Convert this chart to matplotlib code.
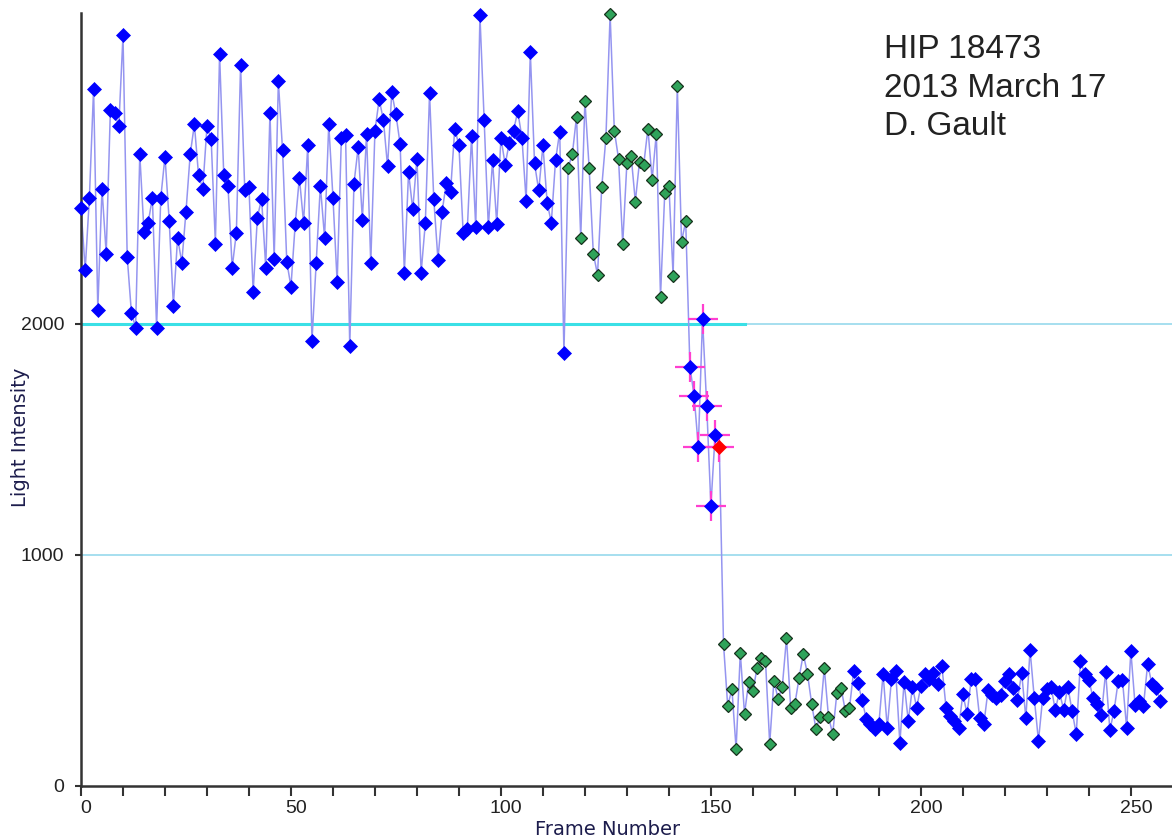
import numpy as np
import matplotlib
matplotlib.use("Agg")
import matplotlib.pyplot as plt
from matplotlib.transforms import ScaledTranslation

# ---- data ----
intensity = [
    2502, 2234, 2545, 3017, 2061, 2584, 2303, 2926, 2913, 2853,
    3247, 2290, 2048, 1983, 2732, 2398, 2437, 2545, 1983, 2545,
    2723, 2446, 2078, 2372, 2264, 2485, 2732, 2862, 2641, 2584,
    2853, 2797, 2346, 3165, 2641, 2597, 2242, 2394, 3117, 2576,
    2589, 2139, 2459, 2541, 2242, 2913, 2281, 3048, 2749, 2268,
    2160, 2429, 2632, 2437, 2771, 1926, 2264, 2597, 2372, 2862,
    2545, 2178, 2805, 2814, 1905, 2606, 2762, 2450, 2822, 2264,
    2835, 2970, 2883, 2680, 3000, 2905, 2775, 2221, 2654, 2494,
    2714, 2221, 2437, 2996, 2541, 2277, 2485, 2610, 2571, 2844,
    2771, 2394, 2411, 2810, 2416, 3333, 2883, 2416, 2706, 2433,
    2805, 2688, 2783, 2835, 2918, 2805, 2532, 3173, 2693, 2576,
    2771, 2524, 2437, 2706, 2831, 1874, 2675, 2732, 2896, 2372,
    2965, 2675, 2303, 2212, 2589, 2805, 3338, 2835, 2714, 2346,
    2697, 2727, 2528, 2701, 2688, 2844, 2623, 2822, 2117, 2563,
    2597, 2208, 3026, 2355, 2442, 1814, 1688, 1467, 2022, 1645,
    1212, 1520, 1467, 615, 346, 420, 160, 576, 312, 450,
    411, 511, 554, 541, 182, 455, 377, 429, 641, 338,
    355, 468, 571, 485, 355, 247, 299, 511, 299, 225,
    403, 424, 325, 338, 498, 446, 372, 290, 268, 247,
    268, 485, 251, 463, 498, 186, 450, 281, 429, 338,
    433, 485, 463, 489, 442, 519, 338, 303, 281, 251,
    398, 312, 463, 463, 294, 268, 416, 394, 381, 394,
    455, 485, 424, 372, 489, 294, 589, 381, 195, 381,
    420, 429, 329, 407, 329, 429, 325, 225, 541, 485,
    459, 381, 355, 307, 494, 242, 325, 455, 459, 251,
    584, 351, 368, 346, 528, 442, 424, 368,
]
green_frames = list(range(116, 145)) + list(range(153, 184))
cross_frames = list(range(145, 153))
red_frames = [152]
y_ticks = [0, 1000, 2000]
x_major = [0, 50, 100, 150, 200, 250]
annotation = "HIP 18473\n2013 March 17\nD. Gault"

frames = np.arange(len(intensity))
vals = np.array(intensity, dtype=float)
is_green = np.isin(frames, green_frames)
is_red = np.isin(frames, red_frames)
is_blue = ~is_green & ~is_red

plt.rcParams['font.family'] = ['Liberation Sans', 'DejaVu Sans']

fig = plt.figure(figsize=(11.72, 8.39), dpi=100)
ax = fig.add_axes([81 / 1172, 1 - 786 / 839, 1 - 81 / 1172, 786 / 839])
ax.set_xlim(0, 259.8)
ax.set_ylim(0, 3400)

# reference lines
for yv in [1000, 2000]:
    ax.axhline(yv, color='#9fdcee', lw=1.3, zorder=0)
ax.plot([0, 158], [2000, 2000], color='#3ae0e6', lw=2.2, zorder=0.5)

# trace
ax.plot(frames, vals, color='#9595f0', lw=1.1, zorder=1)

# crosses
ax.plot(frames[cross_frames], vals[cross_frames], linestyle='none', marker='+',
        ms=21, mew=1.6, color='#ff3fd0', zorder=2, clip_on=False)

# markers
ax.plot(frames[is_blue], vals[is_blue], linestyle='none', marker='D', ms=6.8,
        mfc='#0000ff', mec='#0000ff', mew=0.5, zorder=3, clip_on=False)
ax.plot(frames[is_green], vals[is_green], linestyle='none', marker='D', ms=6.4,
        mfc='#2fa35a', mec='#16321c', mew=0.9, zorder=3, clip_on=False)
ax.plot(frames[is_red], vals[is_red], linestyle='none', marker='D', ms=6.8,
        mfc='#ff0000', mec='#ff0000', mew=0.5, zorder=4, clip_on=False)

# axes styling
for s in ['top', 'right']:
    ax.spines[s].set_visible(False)
for s in ['left', 'bottom']:
    ax.spines[s].set_linewidth(1.8)
    ax.spines[s].set_color('#333333')
ax.spines['left'].set_bounds(0, 3345)

ax.set_yticks(y_ticks)
ax.set_yticklabels([str(v) for v in y_ticks], fontsize=14, color='#222222',
                   family=['Liberation Sans'])
ax.set_xticks(x_major)
ax.set_xticklabels([str(v) for v in x_major], fontsize=14, color='#222222',
                   family=['Liberation Sans'])
ax.set_xticks(np.arange(0, 260, 10), minor=True)
ax.tick_params(axis='x', which='both', direction='out', length=7, width=1.5,
               color='#333333', pad=3)
ax.tick_params(axis='y', which='major', direction='out', length=4, width=1.5,
               color='#333333', pad=8)

# shift x tick labels slightly right, as in the reference
shift = ScaledTranslation(5 / 100, 0, fig.dpi_scale_trans)
for lab in ax.get_xticklabels():
    lab.set_transform(lab.get_transform() + shift)

ax.set_ylabel('Light Intensity', fontsize=14, color='#1c1c4c',
              family=['DejaVu Sans'])
ax.yaxis.set_label_coords(-0.047, 0.443)
ax.set_xlabel('Frame Number', fontsize=14, color='#1c1c4c',
              family=['DejaVu Sans'])
ax.xaxis.set_label_coords(0.483, -0.055)
ax.xaxis.label.set_va('center')

fig.text(884 / 1172, 1 - 34 / 839, annotation, fontsize=24,
         color='#222222', va='top', ha='left', linespacing=1.32)

fig.savefig('out.png', dpi=100)
